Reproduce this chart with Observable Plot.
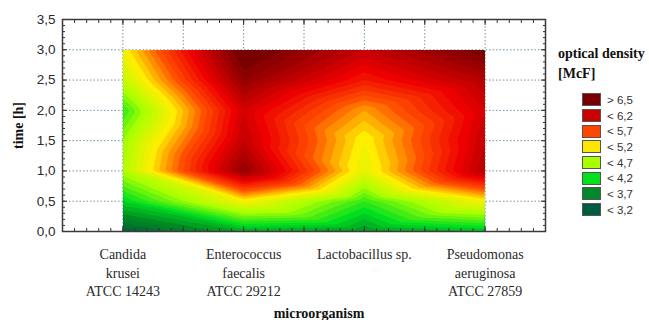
<!DOCTYPE html>
<html>
<head>
<meta charset="utf-8">
<script src="https://cdn.jsdelivr.net/npm/d3@7"></script>
<script src="https://cdn.jsdelivr.net/npm/@observablehq/plot@0.6"></script>
<style>
  html, body { margin: 0; padding: 0; background: #fff; }
  #wrap { position: relative; width: 649px; height: 320px; overflow: hidden; }
  #legend { position: absolute; left: 558px; top: 44px; font-family: "Liberation Serif", serif; }
  #legend .title { font-weight: bold; font-size: 14px; line-height: 20px; color: #111; }
  #legend .rows { margin-top: 8px; margin-left: 24px; }
  #legend .row { display: flex; align-items: center; height: 15.7px; }
  #legend .sw { width: 17px; height: 11px; border: 1px solid #555; margin-right: 6px; }
  #legend .lab { font-family: "Liberation Sans", Arial, sans-serif; font-size: 11.5px; color: #333; }
  g[aria-label="y-axis label"] text, g[aria-label="x-axis label"] text { font-family: "Liberation Serif", serif; font-weight: bold; font-size: 14px; fill: #111; }
  g[aria-label="x-axis label"] text { translate: 15px 0; }
  g[aria-label="y-axis label"] text { translate: -3px 0; }
</style>
</head>
<body>
<div id="wrap"><div id="chart"></div><div id="legend"></div></div>
<script>
// categories (x positions 1..4)
const organisms = [
  "Candida\nkrusei\nATCC 14243",
  "Enterococcus\nfaecalis\nATCC 29212",
  "Lactobacillus sp.",
  "Pseudomonas\naeruginosa\nATCC 27859"
];
// time points [h]
const times = [0, 0.5, 1, 1.5, 2, 2.5, 3];
// optical density [McF] per organism, one value per time point
const candida       = [3.3, 4.0, 4.6, 4.5, 4.2, 4.7, 5.0];
const enterococcus  = [3.8, 5.0, 6.6, 6.3, 6.2, 6.6, 6.9];
const lactobacillus = [3.7, 4.2, 4.9, 5.0, 5.3, 5.9, 6.3];
const pseudomonas   = [3.9, 5.0, 6.4, 6.3, 6.2, 6.4, 6.8];
const series = [candida, enterococcus, lactobacillus, pseudomonas];

// y-axis ticks
const yTicks = [0, 0.5, 1, 1.5, 2, 2.5, 3, 3.5];

// legend
const legendLabels = ["> 6,5", "< 6,2", "< 5,7", "< 5,2", "< 4,7", "< 4,2", "< 3,7", "< 3,2"];
const legendColors = ["#7a0000", "#cc0000", "#ff4500", "#ffe600", "#aaff00", "#00e21c", "#00882a", "#005c40"];

// continuous colour ramp used for the contour bands
const colorStops  = [3.2, 3.6, 4.0, 4.5, 5.0, 5.5, 6.0, 6.7];
const colorRamp   = ["#005a3c", "#008a22", "#00e020", "#aaff00", "#ffee00", "#ff5000", "#ee0000", "#7a0000"];

const data = [];
series.forEach((vals, i) => vals.forEach((v, j) => data.push({x: i + 1, t: times[j], v})));

const minor = d3.range(5, 46).map(d => d / 10);
const majorX = d3.range(1, 10).map(d => d / 2);
const minorY = d3.range(0, 36).map(d => d / 10);

const plot = Plot.plot({
  width: 649,
  height: 320,
  marginLeft: 62,
  marginRight: 104,
  marginTop: 19,
  marginBottom: 89,
  style: {background: "#fff", overflow: "visible"},
  x: {domain: [0.5, 4.5]},
  y: {domain: [0, 3.5]},
  color: {type: "linear", domain: colorStops, range: colorRamp, interpolate: "rgb", clamp: true},
  marks: [
    Plot.gridX(d3.range(1, 4.01, 0.5), {stroke: "#6f94a8", strokeOpacity: 1, strokeDasharray: "1.5,2"}),
    Plot.gridY(d3.range(0.5, 3.01, 0.5), {stroke: "#6f94a8", strokeOpacity: 1, strokeDasharray: "1.5,2"}),
    Plot.contour(data, {
      x: "x", y: "t", fill: "v",
      interpolate: "barycentric",
      x1: 1.004, x2: 3.996, y1: 0.008, y2: 2.992,
      thresholds: d3.range(30, 71).map(d => d / 10)
    }),
    // minor / major ticks, all pointing inward
    Plot.axisX(minor, {anchor: "bottom", tickSize: -3, tickFormat: () => "", label: null, stroke: "#333"}),
    Plot.axisX(minor, {anchor: "top", tickSize: -3, tickFormat: () => "", label: null, stroke: "#333"}),
    Plot.axisX(majorX, {anchor: "top", tickSize: -5, tickFormat: () => "", label: null, stroke: "#333"}),
    Plot.axisY(minorY, {anchor: "left", tickSize: -3, tickFormat: () => "", label: null, stroke: "#333"}),
    Plot.axisY(minorY, {anchor: "right", tickSize: -3, tickFormat: () => "", label: null, stroke: "#333"}),
    Plot.axisY(yTicks, {anchor: "right", tickSize: -5, tickFormat: () => "", label: null, stroke: "#333"}),
    Plot.axisY(yTicks, {
      anchor: "left", tickSize: -5, tickPadding: 12,
      tickFormat: d => d.toFixed(1).replace(".", ","),
      fontSize: 13.5, fontFamily: "Liberation Sans, Arial, sans-serif", fill: "#2a2a2a", stroke: "#333",
      label: "time [h]", labelAnchor: "center", labelOffset: 46, labelArrow: "none"
    }),
    Plot.axisX([1, 2, 3, 4], {
      anchor: "bottom", tickSize: 0, tickPadding: 15,
      tickFormat: d => organisms[d - 1],
      lineHeight: 1.3,
      fontSize: 14, fontFamily: "Liberation Serif, serif", fill: "#2a2a2a",
      label: "microorganism", labelAnchor: "center", labelOffset: 86, labelArrow: "none"
    }),
    Plot.axisX(majorX, {anchor: "bottom", tickSize: -5, tickFormat: () => "", label: null, stroke: "#333"}),
    Plot.frame({stroke: "#3a3a3a", strokeWidth: 1.5})
  ]
});
document.getElementById("chart").appendChild(plot);

// legend
const lg = document.getElementById("legend");
lg.innerHTML = '<div class="title">optical density<br>[McF]</div>';
const rows = document.createElement("div");
rows.className = "rows";
legendLabels.forEach((l, i) => {
  const r = document.createElement("div");
  r.className = "row";
  r.innerHTML = `<div class="sw" style="background:${legendColors[i]}"></div><div class="lab">${l}</div>`;
  rows.appendChild(r);
});
lg.appendChild(rows);
</script>
</body>
</html>
